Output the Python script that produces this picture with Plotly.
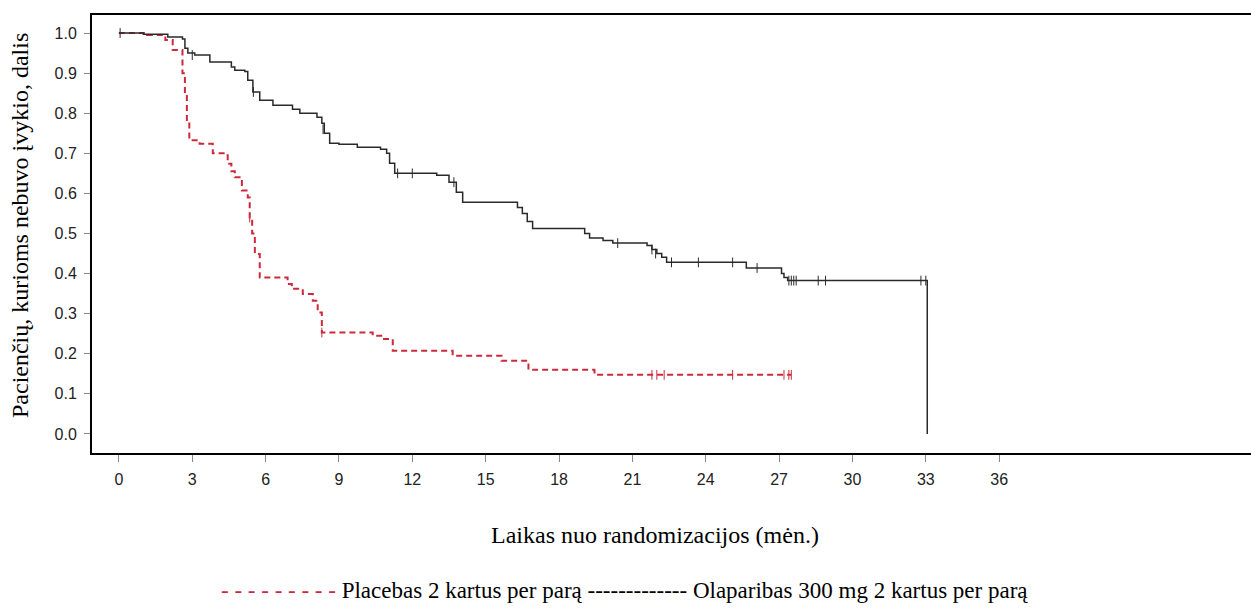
import plotly.graph_objects as go

# Olaparibas 300 mg (black, solid) – Kaplan-Meier steps
t_ola = [0, 1.0, 2.0, 2.6, 2.7, 2.82, 3.1, 3.72, 4.6, 4.74, 5.15, 5.27, 5.48, 5.76, 6.3,
         7.1, 7.4, 8.1, 8.3, 8.4, 8.62, 9.0, 9.75, 10.7, 10.95, 11.07, 11.28, 13.0, 13.5,
         13.8, 14.06, 16.3, 16.5, 16.7, 16.92, 19.05, 19.25, 19.8, 20.2, 21.6, 21.8, 22.0,
         22.2, 22.4, 25.66, 27.1, 27.2, 27.35, 33.06]
s_ola = [1.0, 0.997, 0.99, 0.985, 0.962, 0.95, 0.945, 0.928, 0.915, 0.9075, 0.904, 0.8825,
         0.853, 0.8325, 0.82, 0.81, 0.80, 0.79, 0.775, 0.75, 0.725, 0.7225, 0.715, 0.71,
         0.70, 0.675, 0.65, 0.645, 0.628, 0.603, 0.578, 0.565, 0.55, 0.53, 0.5125, 0.50,
         0.489, 0.4825, 0.476, 0.47, 0.46, 0.45, 0.441, 0.428, 0.414, 0.40, 0.39, 0.3825, 0.0]

# Placebas (red, dashed)
t_pbo = [0, 1.15, 1.9, 2.2, 2.6, 2.7, 2.78, 2.88, 3.3, 3.84, 4.33, 4.45, 4.6, 4.74, 5.03,
         5.27, 5.35, 5.45, 5.56, 5.76, 6.9, 7.07, 7.52, 7.93, 8.13, 8.3, 10.38, 10.79, 11.2,
         13.65, 15.65, 16.75, 19.45, 27.5]
s_pbo = [1.0, 0.995, 0.9825, 0.9575, 0.90, 0.85, 0.78, 0.7325, 0.724, 0.70, 0.695, 0.674,
         0.655, 0.64, 0.6075, 0.59, 0.54, 0.50, 0.449, 0.39, 0.374, 0.362, 0.349, 0.3325,
         0.303, 0.253, 0.245, 0.237, 0.2075, 0.195, 0.1825, 0.16, 0.1475, 0.1475]

# censored observations
cens_ola_t = [0.05, 3.0, 5.5, 8.35, 11.4, 12.0, 13.7, 20.4, 21.8, 21.95, 22.6, 23.7, 25.1,
              26.1, 27.4, 27.5, 27.6, 27.7, 28.6, 28.9, 32.8, 33.0]
cens_ola_s = [1.0, 0.945, 0.853, 0.76, 0.65, 0.65, 0.628, 0.476, 0.46, 0.45, 0.428, 0.428,
              0.428, 0.414, 0.3825, 0.3825, 0.3825, 0.3825, 0.3825, 0.3825, 0.3825, 0.3825]
cens_pbo_t = [5.35, 8.3, 21.8, 22.0, 22.3, 25.1, 27.2, 27.4, 27.5]
cens_pbo_s = [0.54, 0.253, 0.1475, 0.1475, 0.1475, 0.1475, 0.1475, 0.1475, 0.1475]

x_ticks = [0, 3, 6, 9, 12, 15, 18, 21, 24, 27, 30, 33, 36]
y_ticks = [0.0, 0.1, 0.2, 0.3, 0.4, 0.5, 0.6, 0.7, 0.8, 0.9, 1.0]

RED = "#cc2a3c"
BLACK = "#2a2a2a"

fig = go.Figure()
fig.add_trace(go.Scatter(x=t_pbo, y=s_pbo, mode="lines", line_shape="hv",
                         line=dict(color=RED, width=2, dash="6px,4px"), showlegend=False))
fig.add_trace(go.Scatter(x=t_ola, y=s_ola, mode="lines", line_shape="hv",
                         line=dict(color=BLACK, width=1.5), showlegend=False))
fig.add_trace(go.Scatter(x=cens_pbo_t, y=cens_pbo_s, mode="markers",
                         marker=dict(symbol="line-ns", size=7, line=dict(color=RED, width=1)),
                         showlegend=False))
fig.add_trace(go.Scatter(x=cens_ola_t, y=cens_ola_s, mode="markers",
                         marker=dict(symbol="line-ns", size=7, line=dict(color=BLACK, width=1)),
                         showlegend=False))

serif = "Liberation Serif, Times New Roman, serif"
sans = "Liberation Sans, Arial, sans-serif"

fig.update_layout(
    width=1251, height=610,
    margin=dict(l=92, r=0, t=15, b=157),
    paper_bgcolor="white", plot_bgcolor="white",
    xaxis=dict(range=[-1.1, 46.3], tickvals=x_ticks, ticks="outside", ticklen=7,
               tickcolor="#888", tickwidth=1, showline=True, mirror=True,
               linecolor="black", linewidth=2, showgrid=False, zeroline=False,
               tickfont=dict(family=sans, size=16, color="#222"), ticklabelstandoff=4),
    yaxis=dict(range=[-0.0475, 1.045], tickvals=y_ticks, tickformat=".1f", ticks="outside",
               ticklen=6, tickcolor="#888", tickwidth=1, showline=True, mirror=False,
               linecolor="black", linewidth=2, showgrid=False, zeroline=False,
               tickfont=dict(family=sans, size=16, color="#222"), ticklabelstandoff=4),
    annotations=[
        dict(text="Laikas nuo randomizacijos (mėn.)", xref="paper", yref="paper",
             x=(655 - 92) / (1251 - 92), y=-(535 - 453) / (453 - 15), xanchor="center",
             yanchor="middle", showarrow=False, font=dict(family=serif, size=24, color="black")),
        dict(text="Pacienčių, kurioms nebuvo įvykio, dalis", xref="paper", yref="paper",
             x=-(92 - 20) / (1251 - 92), y=(453 - 226) / (453 - 15), xanchor="center",
             yanchor="middle", textangle=-90, showarrow=False,
             font=dict(family=serif, size=24, color="black")),
        dict(text="<span style='color:" + RED + "'>- - - - - - - - -</span> Placebas 2 kartus per parą "
                  "------------- Olaparibas 300 mg 2 kartus per parą",
             xref="paper", yref="paper", x=(624 - 92) / (1251 - 92), y=-(590 - 453) / (453 - 15),
             xanchor="center", yanchor="middle", showarrow=False,
             font=dict(family=serif, size=23, color="black")),
    ],
)

fig.write_html("out.html")
